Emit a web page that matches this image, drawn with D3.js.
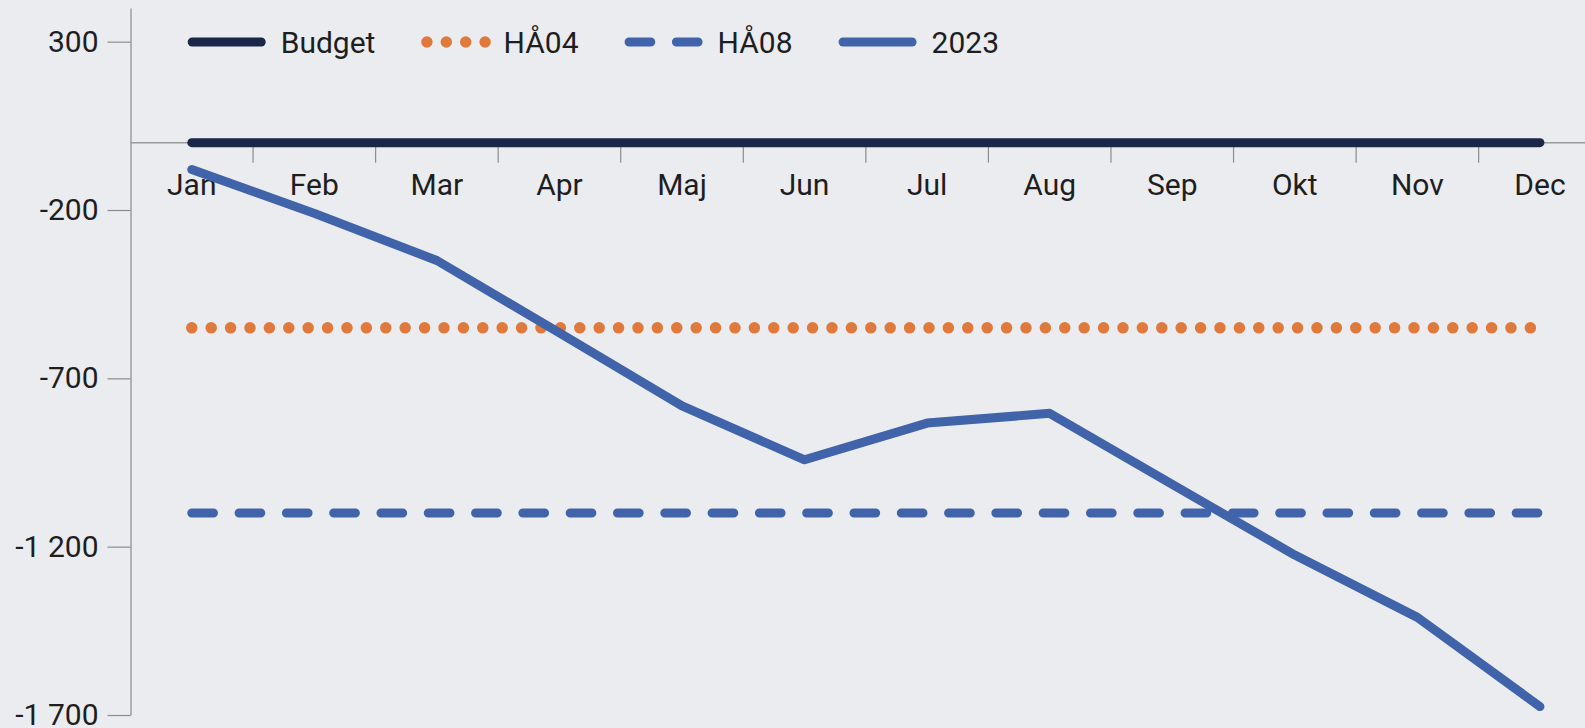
<!DOCTYPE html>
<html>
<head>
<meta charset="utf-8">
<script src="https://cdn.jsdelivr.net/npm/d3@7"></script>
<style>
  html, body { margin: 0; padding: 0; background: #ebecf0; overflow: hidden; }
  svg { display: block; font-family: Roboto, "Noto Sans", sans-serif; }
</style>
</head>
<body>
<div id="chart"></div>
<script>
// chart data
var months = ["Jan", "Feb", "Mar", "Apr", "Maj", "Jun", "Jul", "Aug", "Sep", "Okt", "Nov", "Dec"];
var budget = [0, 0, 0, 0, 0, 0, 0, 0, 0, 0, 0, 0];
var ha04 = [-550, -550, -550, -550, -550, -550, -550, -550, -550, -550, -550, -550];
var ha08 = [-1100, -1100, -1100, -1100, -1100, -1100, -1100, -1100, -1100, -1100, -1100, -1100];
var y2023 = [-80, -210, -350, -565, -782, -942, -833, -804, -1015, -1225, -1410, -1675];
var yTicks = [300, -200, -700, -1200, -1700];
var seriesNames = ["Budget", "HÅ04", "HÅ08", "2023"];

var width = 1585, height = 728;
var left = 130.5;
var bandW = 122.56;

var svg = d3.select("#chart").append("svg")
    .attr("width", width)
    .attr("height", height);

var x = d3.scaleBand()
    .domain(months)
    .range([left, left + bandW * months.length]);

var y = d3.scaleLinear()
    .domain([-1700, 400])
    .range([715, 8]);

var sv = d3.formatLocale({ decimal: ",", thousands: " ", grouping: [3], currency: ["", " kr"], minus: "-" });
var fmt = sv.format(",d");

// y axis
var yAxis = svg.append("g")
    .attr("transform", "translate(" + left + ",0)")
    .call(d3.axisLeft(y).tickValues(yTicks).tickFormat(fmt).tickSize(23).tickSizeOuter(0).tickPadding(9));
yAxis.select(".domain").attr("stroke", "#8c8c8c").attr("stroke-width", 1.2);
yAxis.selectAll(".tick line").attr("stroke", "#8c8c8c").attr("stroke-width", 1.2);
yAxis.selectAll("text").attr("font-size", 30).attr("fill", "#1e1e1e").attr("font-family", "Roboto");

// x axis along zero
var xAxis = svg.append("g")
    .attr("transform", "translate(0," + y(0) + ")");
xAxis.append("line")
    .attr("x1", left).attr("x2", width)
    .attr("stroke", "#9a9a9a").attr("stroke-width", 1.5);
xAxis.selectAll(".mtick")
    .data(months.slice(1))
    .enter().append("line")
    .attr("class", "mtick")
    .attr("x1", function(d) { return x(d); })
    .attr("x2", function(d) { return x(d); })
    .attr("y1", 0).attr("y2", 20)
    .attr("stroke", "#8c8c8c").attr("stroke-width", 1.2);
xAxis.selectAll(".mlabel")
    .data(months)
    .enter().append("text")
    .attr("class", "mlabel")
    .attr("x", function(d) { return x(d) + x.bandwidth() / 2; })
    .attr("y", 52.5)
    .attr("text-anchor", "middle")
    .attr("font-size", 30)
    .attr("fill", "#1e1e1e")
    .text(function(d) { return d; });

var styles = [
    { color: "#1b2749", dash: null, w: 9 },
    { color: "#e07a3c", dash: "0,19.4", w: 11.5 },
    { color: "#4163aa", dash: "21.7,25.6", w: 9 },
    { color: "#4163aa", dash: null, w: 9 }
];
var seriesData = [budget, ha04, ha08, y2023];

var line = d3.line()
    .x(function(d, i) { return x(months[i]) + x.bandwidth() / 2; })
    .y(function(d) { return y(d); });

seriesData.forEach(function(vals, k) {
    svg.append("path")
        .datum(vals)
        .attr("d", line)
        .attr("fill", "none")
        .attr("stroke", styles[k].color)
        .attr("stroke-width", styles[k].w)
        .attr("stroke-linecap", "round")
        .attr("stroke-linejoin", "round")
        .attr("stroke-dasharray", styles[k].dash);
});

// legend
var lx = 187.7, ly = 42;
seriesNames.forEach(function(name, k) {
    var g = svg.append("g");
    var dotted = styles[k].dash === "0,19.4";
    var symLen = dotted ? 67.2 : 78;
    g.append("line")
        .attr("x1", lx + (dotted ? 5.5 : 4.5))
        .attr("x2", lx + (dotted ? 69 : 73.5))
        .attr("y1", ly).attr("y2", ly)
        .attr("stroke", styles[k].color)
        .attr("stroke-width", styles[k].w)
        .attr("stroke-linecap", "round")
        .attr("stroke-dasharray", styles[k].dash);
    var t = g.append("text")
        .attr("x", lx + symLen + 15)
        .attr("y", ly)
        .attr("dy", "0.355em")
        .attr("font-size", 30)
        .attr("fill", "#1e1e1e")
        .text(name);
    lx = lx + symLen + 15 + t.node().getComputedTextLength() + 46;
});
</script>
</body>
</html>
